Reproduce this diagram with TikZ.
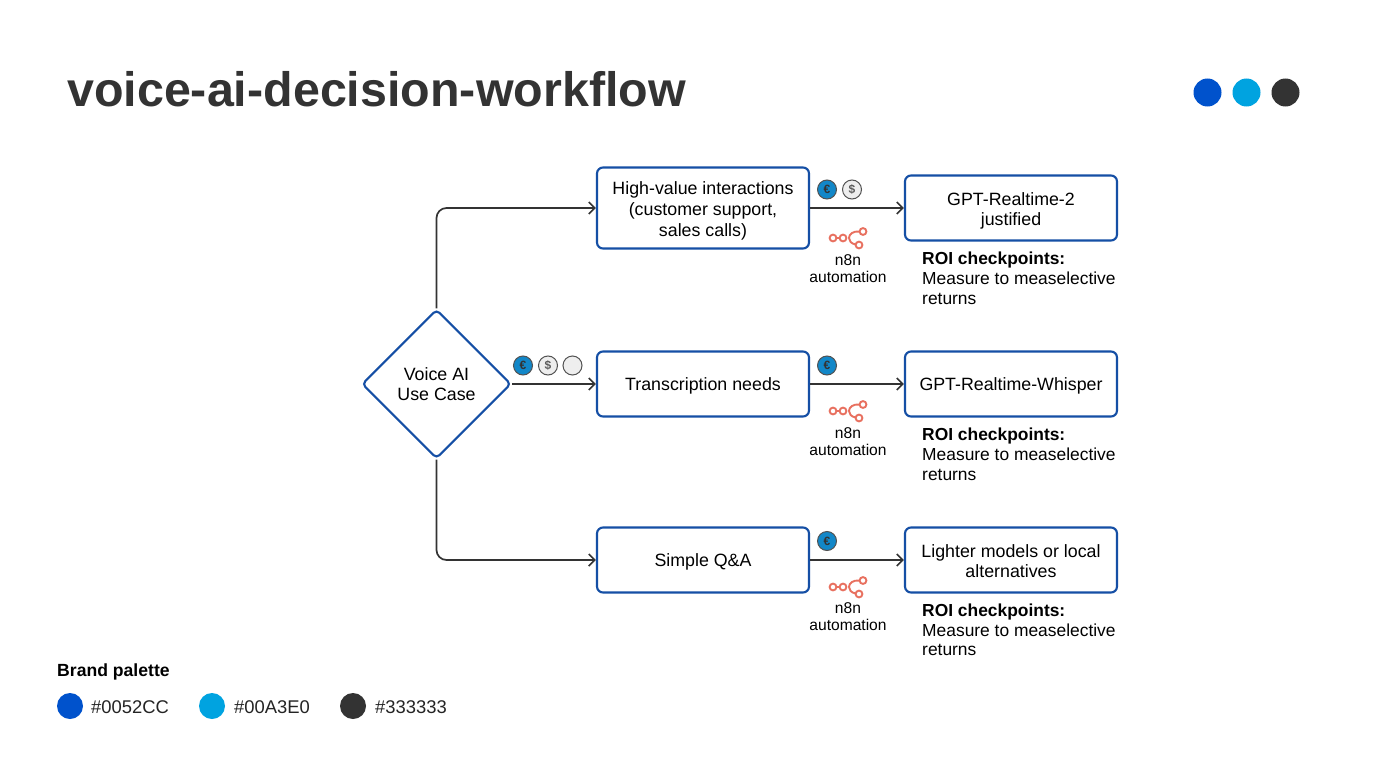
\documentclass[tikz,border=0pt]{standalone}
\usepackage{fontspec}
\setmainfont{Liberation Sans}
\usetikzlibrary{shapes.geometric,arrows.meta}
\definecolor{brandblue}{HTML}{0052CC}
\definecolor{brandcyan}{HTML}{00A3E0}
\definecolor{brandgrey}{HTML}{333333}
\definecolor{flowblue}{HTML}{154FA5}
\definecolor{n8nred}{HTML}{E8705F}
\definecolor{coinblue}{HTML}{1287C8}
\definecolor{coingrey}{HTML}{EEEEEE}
\newcommand{\toplift}{\rule{0pt}{19pt}}
\tikzset{
  flowbox/.style={draw=flowblue,line width=2.1pt,rounded corners=6pt,fill=white,minimum width=212pt,align=center,inner sep=0pt,font=\fontsize{17.8}{20.8}\selectfont,text=black,execute at begin node={\rule{0pt}{16.5pt}},execute at end node={\rule[-4pt]{0pt}{4pt}}},
  decision/.style={draw=flowblue,line width=2.1pt,diamond,aspect=1,rounded corners=4pt,minimum width=149pt,minimum height=149pt,inner sep=0pt,align=center,font=\fontsize{17.8}{20.6}\selectfont,text=black},
  link/.style={draw=brandgrey,line width=1.7pt,rounded corners=10pt,-{Straight Barb[length=6pt,width=12pt,line width=1.7pt]}},
  coin/.style={circle,draw=brandgrey!85,line width=1pt,minimum size=19pt,inner sep=0pt,font=\bfseries\fontsize{12}{12}\selectfont},
  euro/.style={coin,fill=coinblue,text=brandgrey},
  dollar/.style={coin,fill=coingrey,text=brandgrey!80},
  blank/.style={coin,fill=coingrey},
  n8nlabel/.style={align=center,font=\fontsize{15.6}{17.2}\selectfont,text=black},
  roi/.style={anchor=north west,align=left,inner sep=0pt,font=\fontsize{17.4}{19.8}\selectfont,text=black},
  swatch/.style={circle,minimum size=26pt,inner sep=0pt},
  legendtext/.style={anchor=west,inner sep=0pt,font=\fontsize{18.4}{20}\selectfont,text=brandgrey!70!black},
}
\newcommand{\ntree}[2]{%
  \begin{scope}[shift={(#1,#2)},draw=n8nred,line width=1.9pt]
    \draw (-16,0) circle (3.4pt);
    \draw (-6,0) circle (3.4pt);
    \draw (-12.6,0) -- (-9.4,0);
    \draw (14,-6.5) circle (3.4pt);
    \draw (10,7) circle (3.4pt);
    \draw (10.6,-6.5) .. controls (4,-7) and (0,-4) .. (0,0) .. controls (0,3) and (2,5.5) .. (6.8,6.6);
  \end{scope}}
\begin{document}
\begin{tikzpicture}[x=1pt,y=-1pt]
\useasboundingbox[fill=white] (0,0) rectangle (1376,768);

\node[anchor=west,inner sep=0pt,text=brandgrey,font=\bfseries\fontsize{48.4}{50}\selectfont] (title) at (67,89) {voice-ai-decision-workflow};
\node[swatch,minimum size=28pt,fill=brandblue] (dot1) at (1207.5,92.5) {};
\node[swatch,minimum size=28pt,fill=brandcyan] (dot2) at (1246.5,92.5) {};
\node[swatch,minimum size=28pt,fill=brandgrey] (dot3) at (1285.5,92.5) {};

\node[decision] (case) at (436.5,384) {Voice AI\\Use Case};
\node[flowbox,minimum height=81pt] (high) at (703,208) {\toplift High-value interactions\\(customer support,\\sales calls)};
\node[flowbox,minimum height=65pt] (trans) at (703,384) {Transcription needs};
\node[flowbox,minimum height=65pt] (qa) at (703,560) {Simple Q\&A};
\node[flowbox,minimum height=65pt] (gpt) at (1011,208) {\toplift GPT-Realtime-2\\justified};
\node[flowbox,minimum height=65pt] (whisper) at (1011,384) {GPT-Realtime-Whisper};
\node[flowbox,minimum height=65pt] (light) at (1011,560) {\toplift Lighter models or local\\alternatives};

\draw[link] (case.north) |- (high.west);
\draw[link] (case.east) -- (trans.west);
\draw[link] (case.south) |- (qa.west);
\draw[link] (high.east) -- (gpt.west);
\draw[link] (trans.east) -- (whisper.west);
\draw[link] (qa.east) -- (light.west);

\node[euro] (c1) at (827,189.5) {€};
\node[dollar] (c2) at (852,189.5) {\$};
\node[euro] (c3) at (523,365.5) {€};
\node[dollar] (c4) at (548,365.5) {\$};
\node[blank] (c5) at (572.5,365.5) {};
\node[euro] (c6) at (827,365.5) {€};
\node[euro] (c7) at (827,541) {€};

\ntree{849}{238}
\ntree{849}{411}
\ntree{849}{587}
\node[n8nlabel] (n1) at (848,269) {n8n\\automation};
\node[n8nlabel] (n2) at (848,442) {n8n\\automation};
\node[n8nlabel] (n3) at (848,617) {n8n\\automation};

\node[roi] (r1) at (922,252) {\textbf{ROI checkpoints:}\\Measure to measelective\\returns};
\node[roi] (r2) at (922,428) {\textbf{ROI checkpoints:}\\Measure to measelective\\returns};
\node[roi] (r3) at (922,603.5) {\textbf{ROI checkpoints:}\\Measure to measelective\\returns};

\node[anchor=west,inner sep=0pt,text=black,font=\bfseries\fontsize{17.6}{20}\selectfont] (palette) at (57,672) {Brand palette};
\node[swatch,fill=brandblue] (s1) at (70,706) {};
\node[legendtext] (l1) at (91,707) {\#0052CC};
\node[swatch,fill=brandcyan] (s2) at (212,706) {};
\node[legendtext] (l2) at (234,707) {\#00A3E0};
\node[swatch,fill=brandgrey] (s3) at (353,706) {};
\node[legendtext] (l3) at (375,707) {\#333333};
\end{tikzpicture}
\end{document}
